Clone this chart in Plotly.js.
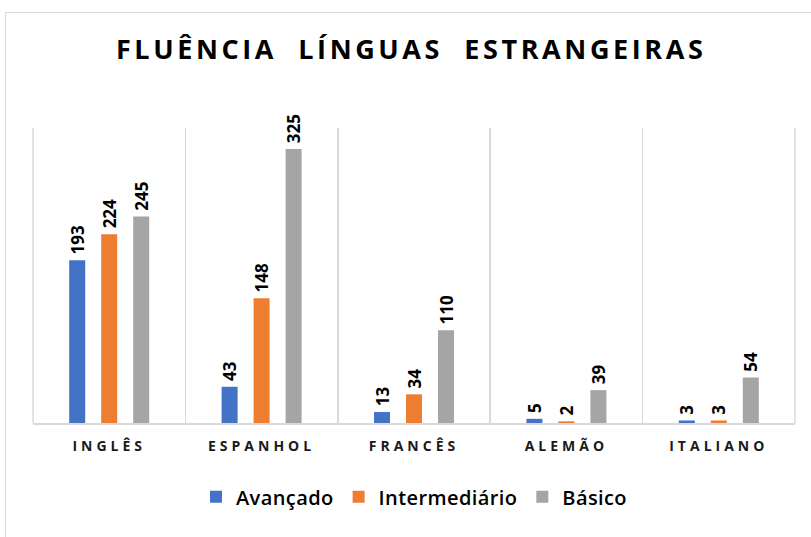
<!DOCTYPE html>
<html><head><meta charset="utf-8">
<script src="https://cdn.plot.ly/plotly-3.0.1.min.js"></script>
<style>
body{margin:0;padding:0;background:#fff;}
#wrap{position:relative;width:811px;height:537px;}
#chart{width:811px;height:537px;}
#frame{position:absolute;left:5px;top:12px;width:820px;height:540px;border:1px solid #d9d9d9;pointer-events:none;}
.gtitle{letter-spacing:3.6px;}
.xtick text{letter-spacing:4px;}
.legendtext{letter-spacing:0.4px;}
</style></head>
<body>
<div id="wrap"><div id="chart"></div><div id="frame"></div></div>
<script>
const categories = ["INGLÊS","ESPANHOL","FRANCÊS","ALEMÃO","ITALIANO"];
const avancado = [193, 43, 13, 5, 3];
const intermediario = [224, 148, 34, 2, 3];
const basico = [245, 325, 110, 39, 54];
const seriesNames = ["Avançado","Intermediário","Básico"];
const colors = ["#4472C4","#ED7D31","#A5A5A5"];

const vals = [avancado, intermediario, basico];
const traces = vals.map((v,i)=>({
  type:'bar', x:categories, y:v, name:seriesNames[i],
  marker:{color:colors[i]},
  texttemplate:'\u2009%{y}', textposition:'outside', textangle:-90,
  constraintext:'none', cliponaxis:false,
  textfont:{family:'Open Sans, sans-serif', size:17, weight:700, color:'#000'}
}));

const layout = {
  width:811, height:537,
  margin:{l:33, r:16, t:128, b:114},
  paper_bgcolor:'#fff', plot_bgcolor:'#fff',
  title:{text:'FLUÊNCIA  LÍNGUAS  ESTRANGEIRAS', x:0.507, xanchor:'center', y:0.907, yanchor:'middle',
         font:{family:'Open Sans, sans-serif', size:27, weight:700, color:'#000'}},
  barmode:'group', bargap:0.37, bargroupgap:0.5,
  xaxis:{type:'category', tickson:'boundaries', showgrid:true, gridcolor:'#d9d9d9', gridwidth:1.5,
         showline:true, linecolor:'#d9d9d9', linewidth:2, ticks:'', ticklen:0, ticklabelstandoff:9,
         tickfont:{family:'Open Sans, sans-serif', size:14, weight:700, color:'#1a1a1a'}},
  yaxis:{range:[0,350], showgrid:false, zeroline:false, showticklabels:false, ticks:'', showline:false},
  showlegend:true,
  legend:{orientation:'h', x:0.5, xanchor:'center', y:-0.25, yanchor:'middle',
          font:{family:'Open Sans, sans-serif', size:20, weight:600, color:'#000'}, itemwidth:30, traceorder:'normal'}
};
layout.shapes = [0,1].map(p=>({type:'line', xref:'paper', yref:'paper', x0:p, x1:p, y0:0, y1:1, line:{color:'#d9d9d9', width:1.5}}));
Plotly.newPlot('chart', traces, layout, {staticPlot:true});
</script>
</body></html>
